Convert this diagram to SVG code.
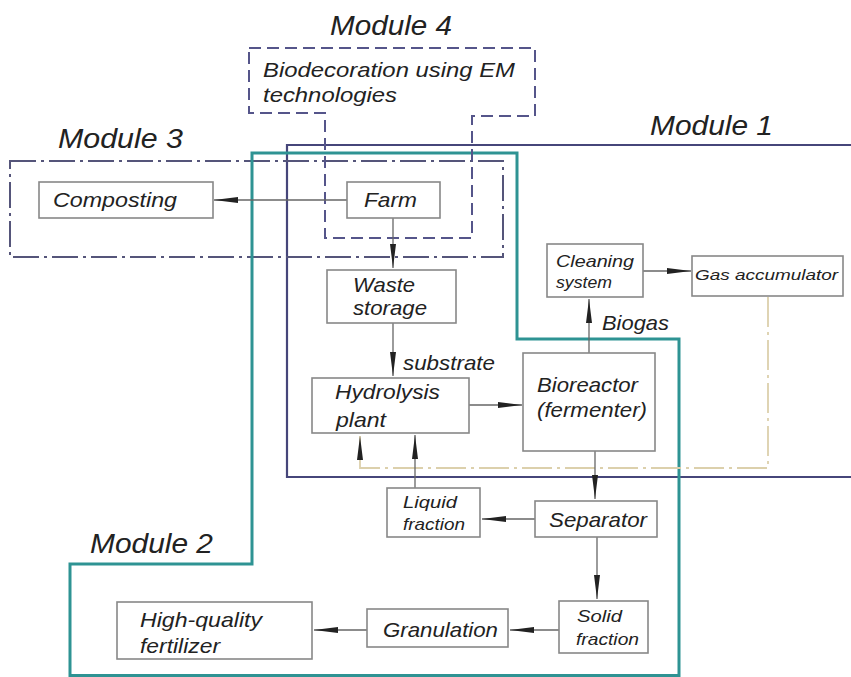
<svg xmlns="http://www.w3.org/2000/svg" width="851" height="677" viewBox="0 0 851 677">
<style>
text{font-family:"Liberation Sans",Arial,sans-serif;font-style:italic;fill:#222}
.mod{font-size:28px}
.t20{font-size:21px}
.t16{font-size:16.5px}
.box{fill:#fff;stroke:#888;stroke-width:1.6}
.conn{stroke:#666;stroke-width:1.3;fill:none}
</style>
<defs>
<marker id="ah" viewBox="0 0 24 8" refX="24" refY="4" markerWidth="24" markerHeight="8" markerUnits="userSpaceOnUse" orient="auto">
<path d="M0,1 L24,4 L0,7 Z" fill="#222"/>
</marker>
</defs>
<rect width="851" height="677" fill="#fff"/>

<g id="module1">
<path d="M851,145 H287 V477 H851" fill="none" stroke="#46467a" stroke-width="2.2"/>
<text class="mod" x="650" y="135" textLength="123" lengthAdjust="spacingAndGlyphs">Module 1</text>
</g>
<g id="module3">
<rect x="10" y="161" width="493" height="96" fill="none" stroke="#55557a" stroke-width="2" stroke-dasharray="26 5 3 5"/>
<text class="mod" x="58" y="148" textLength="125" lengthAdjust="spacingAndGlyphs">Module 3</text>
</g>
<g id="module2">
<path d="M252,153 H517 V339 H679 V675.5 H70 V564 H252 Z" fill="none" stroke="#2e9393" stroke-width="3"/>
<text class="mod" x="90" y="553" textLength="123" lengthAdjust="spacingAndGlyphs">Module 2</text>
</g>
<g id="module4">
<path d="M249,48 H535 V116 H472 V238 H325 V113 H249 Z" fill="none" stroke="#55558a" stroke-width="2" stroke-dasharray="12 6"/>
<text class="mod" x="330" y="35" textLength="122" lengthAdjust="spacingAndGlyphs">Module 4</text>
<text class="t20" x="263" y="77" textLength="252" lengthAdjust="spacingAndGlyphs">Biodecoration using EM</text>
<text class="t20" x="263" y="102" textLength="134" lengthAdjust="spacingAndGlyphs">technologies</text>
</g>

<g id="connectors">
<line class="conn" x1="347" y1="200" x2="214" y2="200" marker-end="url(#ah)"/>
<line class="conn" x1="393" y1="218" x2="393" y2="268" marker-end="url(#ah)"/>
<line class="conn" x1="393" y1="323" x2="393" y2="376" marker-end="url(#ah)"/>
<text class="t20" x="403" y="370" textLength="92" lengthAdjust="spacingAndGlyphs">substrate</text>
<line class="conn" x1="469" y1="405" x2="522" y2="405" marker-end="url(#ah)"/>
<line class="conn" x1="589" y1="353" x2="589" y2="299" marker-end="url(#ah)"/>
<text class="t20" x="602" y="330" textLength="67" lengthAdjust="spacingAndGlyphs">Biogas</text>
<line class="conn" x1="643" y1="271" x2="691" y2="271" marker-end="url(#ah)"/>
<path d="M768,297 V468 H360 V436" fill="none" stroke="#dcd0ac" stroke-width="1.8" stroke-dasharray="30 5 3 5"/>
<path d="M360,460 V436" fill="none" stroke="none" marker-end="url(#ah)"/>
<line class="conn" x1="595" y1="451" x2="595" y2="499" marker-end="url(#ah)"/>
<line class="conn" x1="535" y1="519" x2="482" y2="519" marker-end="url(#ah)"/>
<line class="conn" x1="415" y1="488" x2="415" y2="435" marker-end="url(#ah)"/>
<line class="conn" x1="597" y1="537" x2="597" y2="599" marker-end="url(#ah)"/>
<line class="conn" x1="559" y1="630" x2="510" y2="630" marker-end="url(#ah)"/>
<line class="conn" x1="367" y1="630" x2="314" y2="630" marker-end="url(#ah)"/>
</g>

<g id="composting">
<rect class="box" x="39" y="182" width="174" height="36"/>
<text class="t20" x="53" y="207" textLength="124" lengthAdjust="spacingAndGlyphs">Composting</text>
</g>
<g id="farm">
<rect class="box" x="347" y="182" width="93" height="36"/>
<text class="t20" x="364" y="207" textLength="53" lengthAdjust="spacingAndGlyphs">Farm</text>
</g>
<g id="waste-storage">
<rect class="box" x="327" y="270" width="129" height="53"/>
<text class="t20" x="353" y="292" textLength="62" lengthAdjust="spacingAndGlyphs">Waste</text>
<text class="t20" x="353" y="315" textLength="74" lengthAdjust="spacingAndGlyphs">storage</text>
</g>
<g id="hydrolysis">
<rect class="box" x="312" y="378" width="157" height="55"/>
<text class="t20" x="335" y="399" textLength="105" lengthAdjust="spacingAndGlyphs">Hydrolysis</text>
<text class="t20" x="336" y="427" textLength="50" lengthAdjust="spacingAndGlyphs">plant</text>
</g>
<g id="bioreactor">
<rect class="box" x="523" y="353" width="132" height="98"/>
<text class="t20" x="537" y="392" textLength="101" lengthAdjust="spacingAndGlyphs">Bioreactor</text>
<text class="t20" x="537" y="417" textLength="110" lengthAdjust="spacingAndGlyphs">(fermenter)</text>
</g>
<g id="cleaning">
<rect class="box" x="547" y="244" width="96" height="53"/>
<text class="t16" x="556" y="267" textLength="78" lengthAdjust="spacingAndGlyphs">Cleaning</text>
<text class="t16" x="556" y="288" textLength="56" lengthAdjust="spacingAndGlyphs">system</text>
</g>
<g id="gas-accumulator">
<rect class="box" x="692" y="256" width="151" height="40"/>
<text class="t16" x="695" y="280" style="font-size:15.5px" textLength="143" lengthAdjust="spacingAndGlyphs">Gas accumulator</text>
</g>
<g id="separator">
<rect class="box" x="535" y="501" width="122" height="36"/>
<text class="t20" x="549" y="527" textLength="98" lengthAdjust="spacingAndGlyphs">Separator</text>
</g>
<g id="liquid-fraction">
<rect class="box" x="387" y="488" width="93" height="49"/>
<text class="t16" x="403" y="508" textLength="54" lengthAdjust="spacingAndGlyphs">Liquid</text>
<text class="t16" x="403" y="530" textLength="62" lengthAdjust="spacingAndGlyphs">fraction</text>
</g>
<g id="solid-fraction">
<rect class="box" x="559" y="601" width="89" height="52"/>
<text class="t16" x="577" y="622" textLength="45" lengthAdjust="spacingAndGlyphs">Solid</text>
<text class="t16" x="576" y="645" textLength="63" lengthAdjust="spacingAndGlyphs">fraction</text>
</g>
<g id="granulation">
<rect class="box" x="367" y="609" width="141" height="38"/>
<text class="t20" x="383" y="637" textLength="115" lengthAdjust="spacingAndGlyphs">Granulation</text>
</g>
<g id="fertilizer">
<rect class="box" x="117" y="602" width="195" height="57"/>
<text class="t20" x="140" y="627" textLength="122" lengthAdjust="spacingAndGlyphs">High-quality</text>
<text class="t20" x="140" y="653" textLength="80" lengthAdjust="spacingAndGlyphs">fertilizer</text>
</g>
</svg>
